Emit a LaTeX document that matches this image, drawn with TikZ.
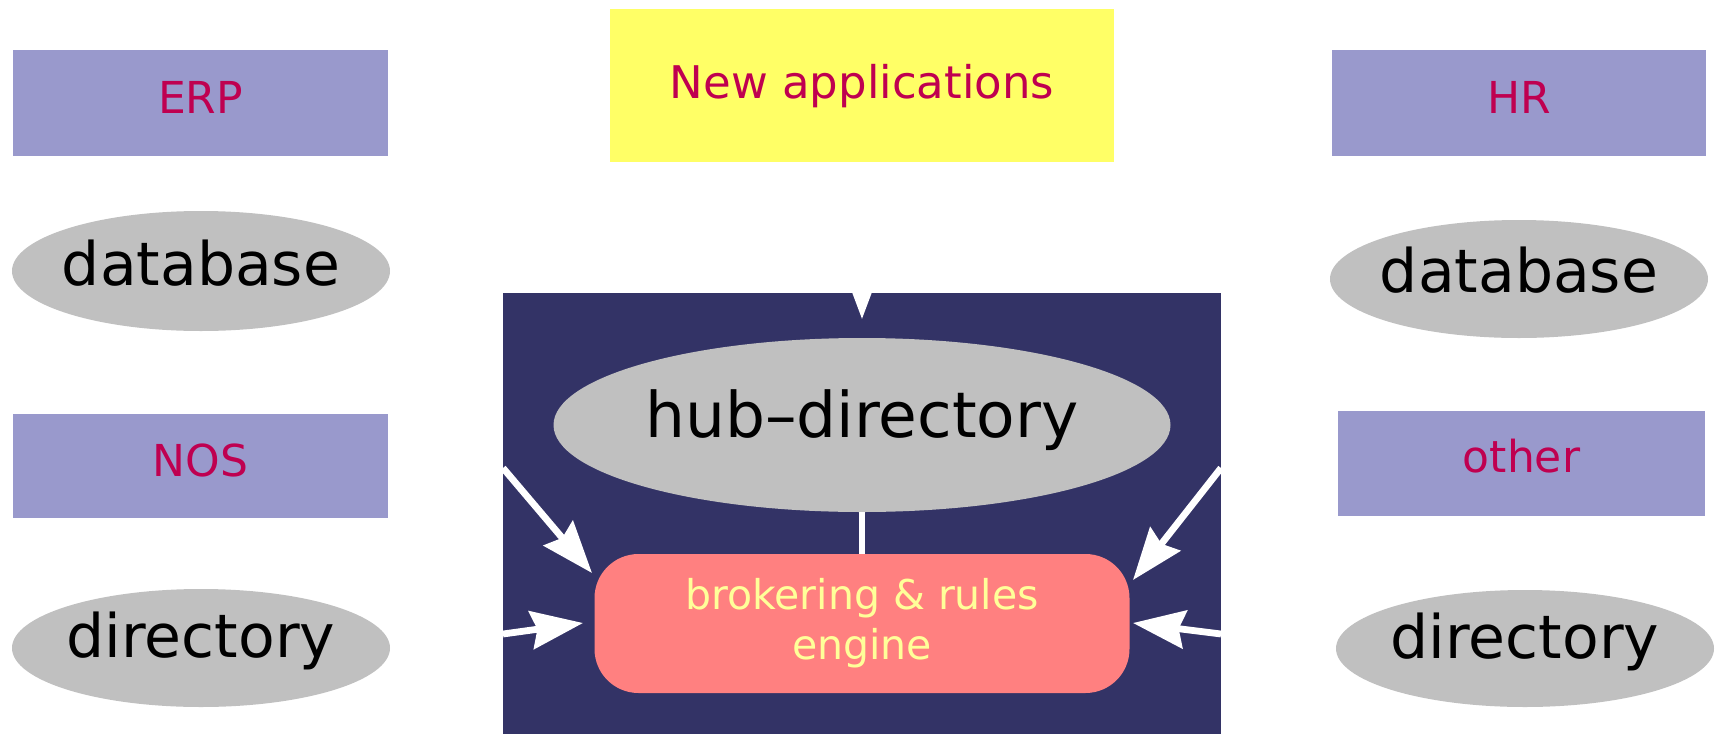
\documentclass[tikz,border=0pt]{standalone}
\usepackage{fontspec}
\setmainfont{DejaVu Sans}
\usetikzlibrary{shapes.geometric,arrows.meta}
\definecolor{lav}{HTML}{9999CC}
\definecolor{crim}{HTML}{BF0050}
\definecolor{yel}{HTML}{FFFF66}
\definecolor{navy}{HTML}{333366}
\definecolor{grey}{HTML}{C0C0C0}
\definecolor{salmon}{HTML}{FF8080}
\definecolor{lyel}{HTML}{FFFF99}
\tikzset{
  sysbox/.style={rectangle, fill=lav, text=crim, font=\fontsize{22pt}{26pt}\selectfont,
    inner sep=0pt, text height=10pt, text depth=0pt},
  appbox/.style={rectangle, fill=yel, text=crim, font=\fontsize{22.5pt}{26pt}\selectfont,
    inner sep=0pt, text height=13pt, text depth=0pt},
  store/.style={ellipse, fill=grey, text=black, font=\fontsize{30pt}{34pt}\selectfont,
    inner xsep=-40pt, inner ysep=-10pt},
  engine/.style={rectangle, rounded corners=22pt, fill=salmon, text=lyel,
    font=\fontsize{20.5pt}{25pt}\selectfont, align=center, inner sep=0pt},
  flow/.style={draw=white, line width=3.4pt, -{Stealth[length=26pt, width=19pt, inset=3pt]}},
  link/.style={draw=white, line width=3.4pt},
}
\begin{document}
\begin{tikzpicture}[x=0.5pt, y=-0.5pt]
\useasboundingbox (0,0) rectangle (1725,734);
% hub area
\node[rectangle, fill=navy, inner sep=0pt, minimum width=359pt, minimum height=220.5pt] (hubarea) at (862,513.5) {};
% left column
\node[sysbox, minimum width=187.5pt, minimum height=53pt] (erp) at (200.5,103) {ERP};
\node[store, minimum width=189pt, minimum height=60pt, text height=14pt, text depth=0pt] (db1) at (201,271) {database};
\node[sysbox, minimum width=187.5pt, minimum height=52pt] (nos) at (200.5,466) {NOS};
\node[store, minimum width=189pt, minimum height=59pt, text height=13pt, text depth=4pt] (dir1) at (201,648) {directory};
% right column
\node[sysbox, minimum width=187pt, minimum height=53pt] (hr) at (1519,103) {HR};
\node[store, minimum width=189pt, minimum height=59pt, text height=13.5pt, text depth=0pt] (db2) at (1519,279) {database};
\node[sysbox, minimum width=183.5pt, minimum height=52.5pt, text height=8.5pt] (other) at (1521.5,463.5) {other};
\node[store, minimum width=189pt, minimum height=58.5pt, text height=14pt, text depth=4pt] (dir2) at (1525,648.5) {directory};
% top
\node[appbox, minimum width=252pt, minimum height=76.5pt] (newapp) at (862,85.5) {New applications};
% hub
\node[store, minimum width=308.5pt, minimum height=87pt, text height=12pt, text depth=0pt,
  font=\fontsize{31.5pt}{36pt}\selectfont] (hub) at (862,425) {hub--directory};
\node[engine, minimum width=267.5pt, minimum height=69.5pt] (brk) at (862,623.5) {brokering \& rules\\engine\rule[-3.5pt]{0pt}{0pt}};
% connector end points
\coordinate (lu) at (503,468);
\coordinate (ll) at (503,634);
\coordinate (ru) at (1221,468);
\coordinate (rl) at (1221,634);
\coordinate (tlu) at (592,573);
\coordinate (tll) at (583,623);
\coordinate (tru) at (1133,580);
\coordinate (trl) at (1133,623);
\coordinate (ttop) at (862,319);
% connectors
\draw[flow] (newapp.south) -- (ttop);
\draw[link] (hub.south) -- (brk.north);
\draw[flow] (lu) -- (tlu);
\draw[flow] (ll) -- (tll);
\draw[flow] (ru) -- (tru);
\draw[flow] (rl) -- (trl);
\end{tikzpicture}
\end{document}
